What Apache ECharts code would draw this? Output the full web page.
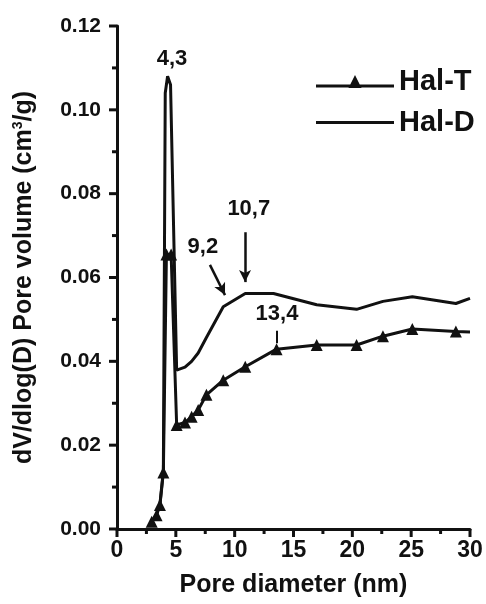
<!DOCTYPE html>
<html>
<head>
<meta charset="utf-8">
<script src="https://cdn.jsdelivr.net/npm/echarts@6/dist/echarts.min.js"></script>
<style>
  html, body { margin: 0; padding: 0; background: #fff; }
  #chart { width: 486px; height: 604px; }
</style>
</head>
<body>
<div id="chart"></div>
<script>
// Pore size distribution (BJH) of the two halloysite samples
const seriesNames = ['Hal-T', 'Hal-D'];

const halT_x = [2.95, 3.36, 3.65, 3.94, 4.2, 4.6, 5.07, 5.78, 6.34, 6.9, 7.6, 9.03, 10.9, 13.56, 16.97, 20.36, 22.6, 25.1, 28.8, 30];
const halT_y = [0.0017, 0.0033, 0.0057, 0.0135, 0.0655, 0.0655, 0.0248, 0.0254, 0.0268, 0.0284, 0.032, 0.0355, 0.0387, 0.0429, 0.0439, 0.0439, 0.046, 0.0477, 0.0471, 0.047];

const halD_x = [2.95, 3.36, 3.65, 3.94, 4.1, 4.3, 4.55, 5.07, 5.78, 6.34, 6.9, 7.6, 9.03, 10.9, 13.3, 16.97, 20.36, 22.6, 25.1, 28.8, 30];
const halD_y = [0.0017, 0.0035, 0.006, 0.014, 0.104, 0.108, 0.106, 0.0379, 0.0386, 0.040, 0.042, 0.0457, 0.053, 0.0562, 0.0562, 0.0535, 0.0524, 0.0543, 0.0554, 0.0538, 0.055];

// Peak annotations (text and its anchor in data units)
const annotText = ['4,3', '9,2', '10,7', '13,4'];
const annotX = [4.67, 7.3, 11.2, 13.6];
const annotY = [0.1121, 0.0673, 0.0763, 0.0513];

// Pointer arrows: [x1, y1, x2, y2]
const arrow9_2 = [7.9, 0.063, 9.18, 0.0558];
const arrow10_7 = [10.88, 0.0708, 10.88, 0.0589];
const tick13_4 = [13.56, 0.0473, 13.56, 0.0443];

const xTicks = { min: 0, max: 30, step: 5 };
const yTicks = { min: 0, max: 0.12, step: 0.02 };

const FONT = "'Liberation Sans', Arial, sans-serif";
const INK = '#111';

const zip = (xs, ys) => xs.map((x, i) => [x, ys[i]]);

const halTData = zip(halT_x, halT_y).map((p, i, arr) =>
  i === arr.length - 1 ? { value: p, symbol: 'none' } : p);

// legend icons: a thick line with a centred triangle, and a plain thick line
const iconLineTri = 'path://M0,9.5 L78,9.5 L78,12.5 L0,12.5 Z M39,0 L45.5,13 L32.5,13 Z';
const iconLine = 'path://M0,0 L78,0 L78,3 L0,3 Z';

// tick positions (major every step, minor halfway): [x, y, kind]
// kind 0/1 = x major/minor, 2/3 = y major/minor
const tickMarks = [];
for (let i = 0; i <= Math.round((xTicks.max - xTicks.min) / (xTicks.step / 2)); i++) {
  tickMarks.push([xTicks.min + i * xTicks.step / 2, yTicks.min, i % 2 === 0 ? 0 : 1]);
}
for (let i = 0; i <= Math.round((yTicks.max - yTicks.min) / (yTicks.step / 2)); i++) {
  tickMarks.push([xTicks.min, +(yTicks.min + i * yTicks.step / 2).toFixed(4), i % 2 === 0 ? 2 : 3]);
}

function renderTick(params, api) {
  const p = api.coord([api.value(0), api.value(1)]);
  const kind = api.value(2);
  const len = (kind === 0 || kind === 2) ? 8 : 5;
  const shape = kind < 2
    ? { x1: p[0], y1: p[1], x2: p[0], y2: p[1] + len }
    : { x1: p[0], y1: p[1], x2: p[0] - len, y2: p[1] };
  return { type: 'line', shape: shape, style: { stroke: INK, lineWidth: 3 } };
}

const chart = echarts.init(document.getElementById('chart'));

chart.setOption({
  animation: false,
  backgroundColor: '#fff',
  grid: { left: 117, right: 16, top: 26, bottom: 75 },
  legend: {
    data: [
      { name: 'Hal-T', icon: iconLineTri, symbolKeepAspect: true },
      { name: 'Hal-D', icon: iconLine, symbolKeepAspect: true }
    ],
    orient: 'vertical',
    left: 311,
    top: 62,
    itemWidth: 78,
    itemHeight: 13,
    itemGap: 12,
    textStyle: { fontFamily: FONT, fontSize: 29, fontWeight: 'bold', color: INK }
  },
  xAxis: {
    type: 'value',
    min: xTicks.min, max: xTicks.max, interval: xTicks.step,
    name: 'Pore diameter (nm)',
    nameLocation: 'middle',
    nameGap: 44,
    nameTextStyle: { fontFamily: FONT, fontSize: 25, fontWeight: 'bold', color: INK },
    axisLine: { show: true, lineStyle: { color: INK, width: 3 } },
    axisTick: { show: false },
    axisLabel: { margin: 10, fontFamily: FONT, fontSize: 23, fontWeight: 'bold', color: INK },
    splitLine: { show: false }
  },
  yAxis: {
    type: 'value',
    min: yTicks.min, max: yTicks.max, interval: yTicks.step,
    name: 'dV/dlog(D) Pore volume (cm{sup|3}/g)',
    nameLocation: 'middle',
    nameGap: 80,
    nameTextStyle: {
      fontFamily: FONT, fontSize: 25, fontWeight: 'bold', color: INK,
      rich: {
        sup: { fontFamily: FONT, fontSize: 14, fontWeight: 'bold', color: INK, verticalAlign: 'top', lineHeight: 26 }
      }
    },
    axisLine: { show: true, lineStyle: { color: INK, width: 3 } },
    axisTick: { show: false },
    axisLabel: {
      margin: 16, fontFamily: FONT, fontSize: 21, fontWeight: 'bold', color: INK,
      formatter: v => v.toFixed(2)
    },
    splitLine: { show: false }
  },
  series: [
    {
      name: 'axis ticks',
      type: 'custom',
      clip: false,
      silent: true,
      z: 1,
      renderItem: renderTick,
      data: tickMarks
    },
    {
      name: 'Hal-T',
      type: 'line',
      data: halTData,
      symbol: 'triangle',
      symbolSize: 12,
      showAllSymbol: true,
      z: 3,
      lineStyle: { color: INK, width: 3 },
      itemStyle: { color: INK },
      markLine: {
        silent: true,
        symbol: ['none', 'none'],
        label: { show: false },
        lineStyle: { color: INK, width: 2, type: 'solid' },
        data: [[{ coord: [tick13_4[0], tick13_4[1]] }, { coord: [tick13_4[2], tick13_4[3]] }]]
      }
    },
    {
      name: 'Hal-D',
      type: 'line',
      data: zip(halD_x, halD_y),
      symbol: 'none',
      z: 2,
      lineStyle: { color: INK, width: 3 },
      itemStyle: { color: INK },
      markLine: {
        silent: true,
        symbol: ['none', 'arrow'],
        symbolSize: [9, 12],
        label: { show: false },
        lineStyle: { color: INK, width: 2.5, type: 'solid' },
        data: [
          [{ coord: [arrow9_2[0], arrow9_2[1]] }, { coord: [arrow9_2[2], arrow9_2[3]] }],
          [{ coord: [arrow10_7[0], arrow10_7[1]] }, { coord: [arrow10_7[2], arrow10_7[3]] }]
        ]
      }
    },
    {
      name: 'labels',
      type: 'scatter',
      symbolSize: 0,
      silent: true,
      itemStyle: { opacity: 1 },
      data: annotText.map((t, i) => [annotX[i], annotY[i], t]),
      label: {
        show: true,
        position: 'inside',
        formatter: p => p.value[2],
        fontFamily: FONT, fontSize: 22, fontWeight: 'bold', color: INK
      }
    }
  ]
});
</script>
</body>
</html>
